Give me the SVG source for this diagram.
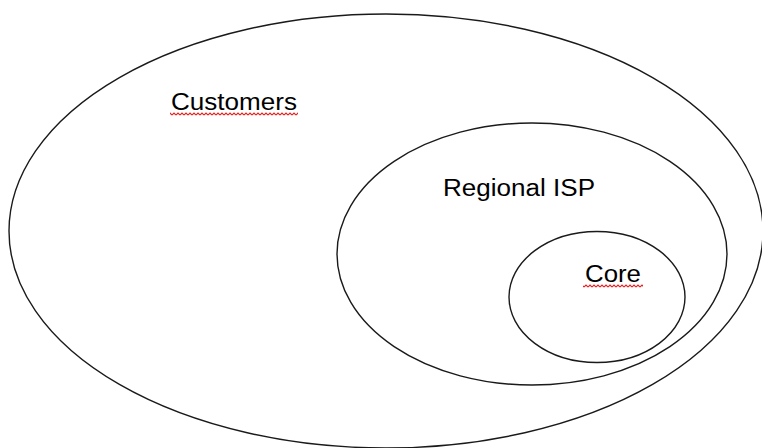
<svg xmlns="http://www.w3.org/2000/svg" width="762" height="448" viewBox="0 0 762 448">
<style>
.ring{fill:none;stroke:#1a1a1a;stroke-width:1.4}
.lbl{font-family:"Liberation Sans",Arial,sans-serif;font-size:23px;fill:#000}
</style>
<defs>
<pattern id="squig" x="0" y="0" width="4" height="4" patternUnits="userSpaceOnUse">
<polyline points="0,3 2,1 4,3" fill="none" stroke="#e02020" stroke-width="1.1"/>
</pattern>
</defs>
<rect width="762" height="448" fill="#fff"/>
<g id="customers">
<ellipse class="ring" cx="386" cy="231" rx="377" ry="217"/>
<text class="lbl" x="171" y="110" textLength="126" lengthAdjust="spacingAndGlyphs">Customers</text>
<rect x="170" y="112" width="128" height="4" fill="url(#squig)"/>
</g>
<g id="regional-isp">
<ellipse class="ring" cx="532" cy="254" rx="195" ry="131"/>
<text class="lbl" x="443" y="196" textLength="152" lengthAdjust="spacingAndGlyphs">Regional ISP</text>
</g>
<g id="core">
<ellipse class="ring" cx="597" cy="297" rx="88" ry="65.5"/>
<text class="lbl" x="585" y="282" textLength="56" lengthAdjust="spacingAndGlyphs">Core</text>
<rect x="583" y="284" width="60" height="4" fill="url(#squig)"/>
</g>
<g id="connectors"></g>
</svg>
